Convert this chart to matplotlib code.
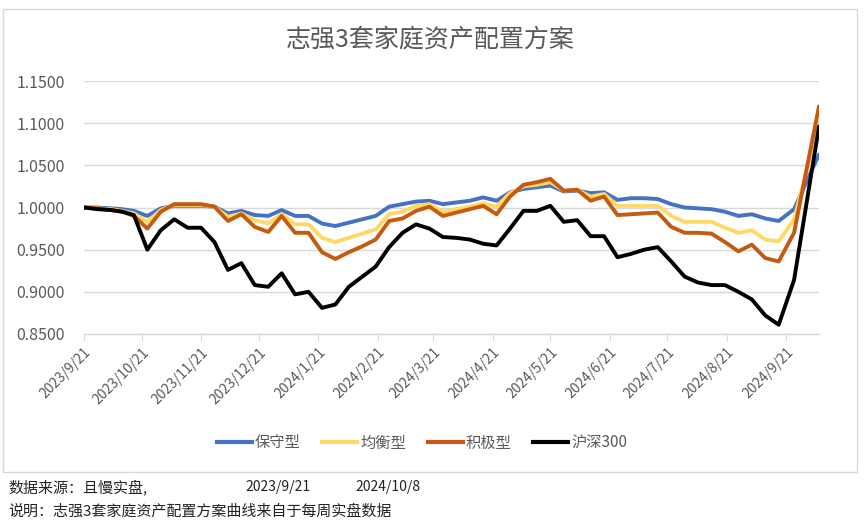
import datetime as dt
import matplotlib
matplotlib.use("Agg")
import matplotlib.pyplot as plt
from matplotlib.lines import Line2D
from matplotlib.patches import Rectangle

plt.rcParams['font.family'] = ['Noto Sans CJK SC', 'DejaVu Sans']

START = dt.date(2023, 9, 21)

# day offsets from 2023/9/21 (weekly snapshots)
days = [0, 7, 14, 20, 26,
        33, 40, 47, 54, 61, 68, 75, 82, 89, 96, 103, 110, 117, 124, 131,
        138, 145, 152, 159, 166, 173, 180, 187, 194, 201, 208, 215, 222, 229,
        236, 243, 250, 257, 264, 271, 278, 285, 292, 299, 306, 313, 320, 327,
        334, 341, 348, 355, 362, 370, 383]

conservative = [1.000, 1.000, 0.999, 0.998, 0.996,
                0.990, 0.999, 1.002, 1.002, 1.002, 1.001, 0.993, 0.996, 0.991, 0.990, 0.997, 0.990, 0.990, 0.981, 0.978,
                0.982, 0.986, 0.990, 1.001, 1.004, 1.007, 1.008, 1.004, 1.006, 1.008, 1.012, 1.008, 1.018, 1.022,
                1.024, 1.026, 1.019, 1.020, 1.017, 1.018, 1.009, 1.011, 1.011, 1.010, 1.004, 1.000, 0.999, 0.998,
                0.995, 0.990, 0.992, 0.987, 0.984, 0.998, 1.063]

balanced = [1.000, 0.999, 0.998, 0.996, 0.993,
            0.983, 0.997, 1.003, 1.003, 1.003, 1.001, 0.989, 0.993, 0.985, 0.981, 0.992, 0.980, 0.980, 0.964, 0.959,
            0.964, 0.969, 0.974, 0.992, 0.995, 1.002, 1.004, 0.995, 0.998, 1.001, 1.005, 1.001, 1.017, 1.025,
            1.027, 1.030, 1.020, 1.021, 1.013, 1.016, 1.002, 1.002, 1.002, 1.002, 0.990, 0.983, 0.983, 0.983,
            0.976, 0.970, 0.973, 0.962, 0.960, 0.986, 1.100]

aggressive = [1.000, 0.999, 0.997, 0.995, 0.990,
              0.975, 0.995, 1.004, 1.004, 1.004, 1.001, 0.984, 0.992, 0.977, 0.971, 0.990, 0.970, 0.970, 0.947, 0.939,
              0.947, 0.954, 0.962, 0.984, 0.987, 0.996, 1.001, 0.990, 0.994, 0.998, 1.002, 0.992, 1.013, 1.027,
              1.030, 1.034, 1.020, 1.021, 1.008, 1.013, 0.991, 0.992, 0.993, 0.994, 0.977, 0.970, 0.970, 0.969,
              0.959, 0.948, 0.956, 0.940, 0.936, 0.970, 1.120]

csi300 = [1.000, 0.998, 0.997, 0.995, 0.991,
          0.950, 0.973, 0.986, 0.976, 0.976, 0.959, 0.926, 0.934, 0.908, 0.906, 0.922, 0.897, 0.900, 0.881, 0.885,
          0.906, 0.918, 0.930, 0.953, 0.970, 0.980, 0.975, 0.965, 0.964, 0.962, 0.957, 0.955, 0.975, 0.996,
          0.996, 1.002, 0.983, 0.985, 0.966, 0.966, 0.941, 0.945, 0.950, 0.953, 0.936, 0.918, 0.911, 0.908,
          0.908, 0.900, 0.891, 0.872, 0.861, 0.914, 1.096]

series_names = ["保守型", "均衡型", "积极型", "沪深300"]
series_colors = ["#4472C4", "#FFD966", "#C55A11", "#000000"]

tick_labels = ["2023/9/21", "2023/10/21", "2023/11/21", "2023/12/21", "2024/1/21",
               "2024/2/21", "2024/3/21", "2024/4/21", "2024/5/21", "2024/6/21",
               "2024/7/21", "2024/8/21", "2024/9/21"]
y_ticks = [0.85, 0.90, 0.95, 1.00, 1.05, 1.10, 1.15]

GRAY = "#595959"
GRID = "#d9d9d9"
W, H = 865, 523


def label_to_day(s):
    y, m, d = (int(v) for v in s.split("/"))
    return (dt.date(y, m, d) - START).days


fig = plt.figure(figsize=(W / 100, H / 100), dpi=100)
ax = fig.add_axes([84 / W, 1 - 334 / H, (819 - 84) / W, (334 - 81) / H])

for vals, name, col in zip([conservative, balanced, aggressive, csi300], series_names, series_colors):
    ax.plot(days, vals, color=col, lw=2.8, label=name,
            solid_joinstyle="round", solid_capstyle="round")

ax.set_xlim(0, 383)
ax.set_ylim(0.85, 1.15)
ax.set_yticks(y_ticks)
ax.set_yticklabels([f"{v:.4f}" for v in y_ticks])
ax.set_xticks([label_to_day(s) for s in tick_labels])
ax.set_xticklabels(tick_labels, rotation=45, ha="right", rotation_mode="anchor")

ax.grid(axis="y", color=GRID, lw=1)
ax.set_axisbelow(True)
for side in ("top", "right", "left"):
    ax.spines[side].set_visible(False)
ax.spines["bottom"].set_color(GRID)
ax.spines["bottom"].set_linewidth(1)
ax.tick_params(axis="y", length=0, pad=14, labelsize=11.5, labelcolor=GRAY)
ax.tick_params(axis="x", length=5, color=GRID, pad=3, labelsize=10, labelcolor=GRAY)

fig.text(0.497, 1 - 40 / H, "志强3套家庭资产配置方案", ha="center", va="center",
         fontsize=18, color=GRAY)

handles = [Line2D([], [], color=c, lw=3) for c in series_colors]
fig.legend(handles, series_names, loc="center", bbox_to_anchor=(422 / W, 1 - 443 / H),
           ncol=4, frameon=False, fontsize=11, handlelength=2.3, handletextpad=0.2,
           columnspacing=1.4, labelcolor=GRAY)

# chart frame
fig.add_artist(Rectangle((3 / W, 1 - 472 / H), (857 - 3) / W, (472 - 9) / H,
                         transform=fig.transFigure, fill=False, edgecolor=GRID, lw=1))

fig.text(8 / W, 1 - 487 / H, "数据来源：且慢实盘,", va="center", fontsize=10.8, color="#222222")
fig.text(245 / W, 1 - 487 / H, "2023/9/21", va="center", fontsize=10, color="#222222")
fig.text(355 / W, 1 - 487 / H, "2024/10/8", va="center", fontsize=10, color="#222222")
fig.text(8 / W, 1 - 511 / H, "说明：志强3套家庭资产配置方案曲线来自于每周实盘数据",
         va="center", fontsize=10.8, color="#222222")

fig.savefig("out.png", dpi=100)
